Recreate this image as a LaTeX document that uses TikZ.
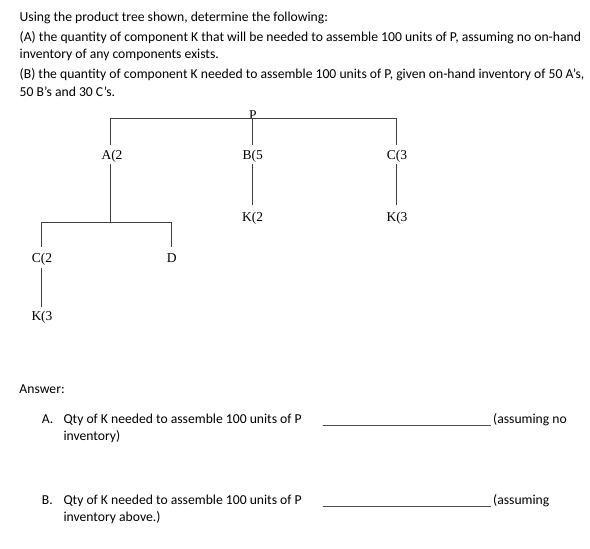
\documentclass[tikz,border=0pt]{standalone}
\usepackage{fontspec}
\setmainfont{Carlito}
\newfontfamily\tms{Liberation Serif}
\begin{document}
\begin{tikzpicture}[x=1pt,y=-1pt,
  txt/.style={anchor=base west,inner sep=0pt,font=\fontsize{13.65}{15}\selectfont},
  lbl/.style={inner xsep=0pt,inner ysep=0pt,minimum height=18pt,font=\tms\fontsize{13.5}{15}\selectfont,text height=9pt,text depth=0pt},
  tree/.style={draw=black!75,line width=0.8pt},
  uline/.style={draw=black!70,line width=0.7pt}]
\useasboundingbox (0,0) rectangle (590,549);
% question text
\node[txt] (q1) at (19.5,21.7) {Using the product tree shown, determine the following:};
\node[txt] (q2) at (19.5,41) {(A) the quantity of component K that will be needed to assemble 100 units of P, assuming no on-hand};
\node[txt] (q3) at (19.5,58.5) {inventory of any components exists.};
\node[txt] (q4) at (19.5,78.3) {(B) the quantity of component K needed to assemble 100 units of P, given on-hand inventory of 50 A's,};
\node[txt] (q5) at (19.5,96.7) {50 B's and 30 C's.};
% tree
\coordinate (bar) at (252.7,118.3);
\node[lbl,anchor=base,minimum height=0pt] (P) at (253,119.5) {P};
\node[lbl] (A) at (112,154.5) {A(2};
\node[lbl] (B) at (252.7,154.5) {B(5};
\node[lbl] (C) at (397,154.5) {C(3};
\node[lbl,minimum height=24pt] (K2) at (252.7,217) {K(2};
\node[lbl,minimum height=24pt] (K3r) at (397,217) {K(3};
\coordinate (abar) at (110.7,222.7);
\node[lbl,minimum height=20pt] (C2) at (42,257.5) {C(2};
\node[lbl,minimum height=20pt] (D) at (171.7,257.5) {D};
\node[lbl,minimum height=18pt] (K3l) at (42,316) {K(3};
\draw[tree] (A.north -| 110.7,0) |- (bar) -| (C.north -| 396.7,0);
\draw[tree] (bar) -- (B.north);
\draw[tree] (B.south) -- (K2.north);
\draw[tree] (C.south -| 396.7,0) -- (K3r.north -| 396.7,0);
\draw[tree] (A.south -| 110.7,0) -- (abar);
\draw[tree] (C2.north -| 41,0) |- (abar) -| (D.north);
\draw[tree] (C2.south -| 41,0) -- (K3l.north -| 41,0);
% answer section
\node[txt] (ans) at (19.3,393.3) {Answer:};
\node[txt] (la) at (41.7,423.3) {A.};
\node[txt] (ta) at (63.3,423.3) {Qty of K needed to assemble 100 units of P};
\node[txt] (ta2) at (63.3,440.5) {inventory)};
\coordinate (ua1) at (322.7,425);
\coordinate (ua2) at (490.7,425);
\draw[uline] (ua1) -- (ua2);
\node[txt] (sa) at (493,423.3) {(assuming no};
\node[txt] (lb) at (41.7,504.3) {B.};
\node[txt] (tb) at (63.3,504.3) {Qty of K needed to assemble 100 units of P};
\node[txt] (tb2) at (63.3,521.5) {inventory above.)};
\coordinate (ub1) at (322.7,506.5);
\coordinate (ub2) at (490.7,506.5);
\draw[uline] (ub1) -- (ub2);
\node[txt] (sb) at (493,504.3) {(assuming};
\end{tikzpicture}
\end{document}
